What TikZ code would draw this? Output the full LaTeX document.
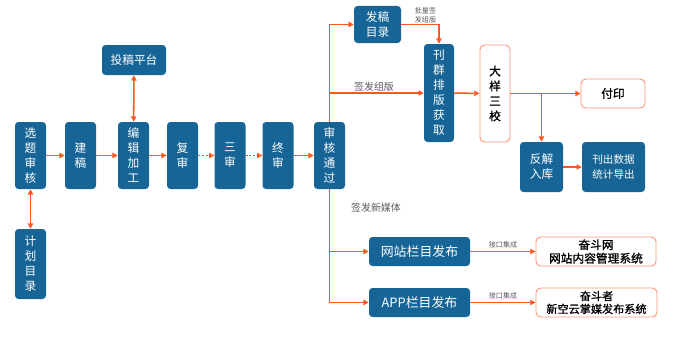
\documentclass[tikz,border=0pt]{standalone}
\usepackage{fontspec}
\setmainfont{Noto Sans CJK SC}
\newfontfamily\semifont[FakeBold=1.2]{Noto Sans CJK SC}
\usetikzlibrary{arrows.meta,positioning}
\definecolor{FlowBlue}  {RGB}{ 22,101,150}
\definecolor{FlowOrange}{RGB}{255, 87, 34}
\definecolor{FlowPeach} {RGB}{250,150,120}
\definecolor{FlowGray}  {RGB}{ 90, 90, 90}

\tikzset{
  bluebox/.style={fill=FlowBlue,text=white,rounded corners=3pt,inner sep=0pt,
                  align=center,font=\fontsize{10}{12.8}\selectfont},
  whitebox/.style={draw=FlowPeach,line width=0.8pt,fill=white,rounded corners=4pt,
                   inner sep=0pt,align=center,font=\semifont\fontsize{10}{12.8}\selectfont},
  flow/.style={FlowOrange,line width=1.3pt,-{Triangle[length=4.5pt,width=4.5pt]}},
  both/.style={FlowOrange,line width=1.3pt,{Triangle[length=4.5pt,width=4.5pt]}-{Triangle[length=4.5pt,width=4.5pt]}},
  dotflow/.style={flow,dash pattern=on 1.6pt off 1.6pt},
  note/.style={text=FlowGray,inner sep=0pt,font=\fontsize{8.5}{10}\selectfont},
  tiny/.style={text=FlowGray,inner sep=0pt,align=center,font=\fontsize{6}{7.5}\selectfont}
}

\begin{document}
\begin{tikzpicture}[x=0.3mm,y=-0.3mm]
\useasboundingbox (0,0) rectangle (676,336);

% main line
\node[bluebox,minimum width=9.3mm,minimum height=20.1mm] (sel)   at (30.5,155.5) {选\\题\\审\\核};
\node[bluebox,minimum width=9.3mm,minimum height=20.1mm] (jian)  at (80.5,155.5) {建\\稿};
\node[bluebox,minimum width=9.3mm,minimum height=20.1mm] (bian)  at (133.5,155.5) {编\\辑\\加\\工};
\node[bluebox,minimum width=9.3mm,minimum height=20.1mm] (fu)    at (182.5,155.5) {复\\审};
\node[bluebox,minimum width=9.3mm,minimum height=20.1mm] (san)   at (230,155.5) {三\\审};
\node[bluebox,minimum width=9.3mm,minimum height=20.1mm] (zhong) at (278,155.5) {终\\审};
\node[bluebox,minimum width=9.3mm,minimum height=20.1mm] (tong)  at (329.5,155.5) {审\\核\\通\\过};
\node[bluebox,minimum width=19.2mm,minimum height=9mm]   (tou)   at (134,60) {投稿平台};
\node[bluebox,minimum width=9.3mm,minimum height=21mm]   (ji)    at (30.5,264) {计\\划\\目\\录};

% print side
\node[bluebox,minimum width=14.1mm,minimum height=11.1mm] (fg) at (377.5,24.5) {发稿\\目录};
\node[bluebox,minimum width=9mm,minimum height=29.4mm]    (kq) at (439,93) {刊\\群\\排\\版\\获\\取};
\node[whitebox,minimum width=9mm,minimum height=29.1mm]   (dy) at (495,93.5) {大\\样\\三\\校};
\node[whitebox,minimum width=19.2mm,minimum height=8.7mm] (fy) at (613,93.5) {付印};
\node[bluebox,minimum width=12.9mm,minimum height=15mm]   (fj) at (541.5,167) {反解\\入库};
\node[bluebox,minimum width=18.9mm,minimum height=15mm,font=\fontsize{9}{12.5}\selectfont] (kc) at (613.5,167) {刊出数据\\统计导出};

% new media side
\node[bluebox,minimum width=30.3mm,minimum height=8.7mm,font=\fontsize{11}{13}\selectfont] (wz)  at (419.5,251.5) {网站栏目发布};
\node[bluebox,minimum width=30.3mm,minimum height=8.7mm,font=\fontsize{11}{13}\selectfont] (app) at (419.5,302.5) {APP栏目发布};
\node[whitebox,minimum width=36mm,minimum height=8.7mm,font=\semifont\fontsize{10}{11.5}\selectfont] (fdw) at (596,251.5) {奋斗网\\网站内容管理系统};
\node[whitebox,minimum width=36.3mm,minimum height=8.7mm,font=\semifont\fontsize{9.5}{11}\selectfont] (fdz) at (596.5,302.5) {奋斗者\\新空云掌媒发布系统};

% connectors
\draw[flow] (sel) -- (jian);
\draw[flow] (jian) -- (bian);
\draw[flow] (bian) -- (fu);
\draw[dotflow] (fu) -- (san);
\draw[dotflow] (san) -- (zhong);
\draw[flow] (zhong) -- (tong);
\draw[both] (bian) -- (tou);
\draw[both] (sel) -- (ji);

\draw[flow] (tong.north) |- (fg.west);
\draw[flow] (tong.north) |- (kq.west);
\draw[flow] (fg.east) -| (kq.north);
\draw[flow] (kq) -- (dy);
\draw[flow] (dy) -- (fy);
\coordinate (split) at (dy.east -| fj.north);
\draw[flow] (split) -- (fj.north);
\draw[flow] (fj) -- (kc);

\draw[flow] (tong.south) |- (wz.west);
\draw[flow] (tong.south) |- (app.west);
\draw[flow] (wz) -- (fdw);
\draw[flow] (app) -- (fdz);

% labels
\node[note] (lzb) at (374,87) {签发组版};
\node[note] (lxm) at (376,208) {签发新媒体};
\node[tiny] (lpl) at (425.5,15) {批量签\\发组版};
\node[tiny] (ljk1) at (503,245) {接口集成};
\node[tiny] (ljk2) at (503,296) {接口集成};
\end{tikzpicture}
\end{document}
